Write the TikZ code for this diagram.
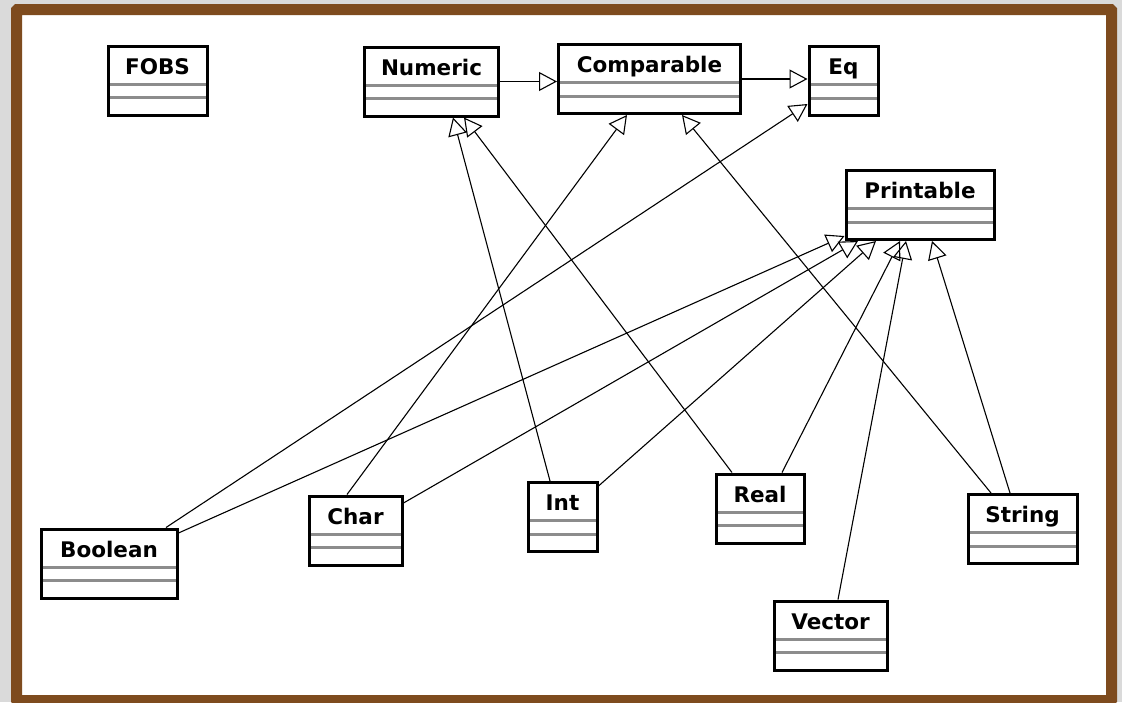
\documentclass[tikz,border=0pt]{standalone}
\usepackage{fontspec}
\setsansfont{DejaVu Sans}
\usetikzlibrary{arrows.meta}
\definecolor{framebrown}{HTML}{7E4B1E}
\definecolor{backgray}{HTML}{DADADA}
\definecolor{splitgray}{HTML}{8C8C8C}

\begin{document}
\begin{tikzpicture} [
						x=1pt, y=-1pt,
						class/.style={draw, line width=3pt, inner xsep=0pt, inner ysep=0pt,
							text height=28pt, text depth=41pt,
							font=\sffamily\bfseries\fontsize{21.5}{25}\selectfont,
							path picture={
								\draw[splitgray, line width=3pt]
									([yshift=-38pt]path picture bounding box.north west) -- ([yshift=-38pt]path picture bounding box.north east)
									([yshift=-51.5pt]path picture bounding box.north west) -- ([yshift=-51.5pt]path picture bounding box.north east);
							}},
						inherits/.style={line width=1.1pt, -{Triangle[open, length=18pt, width=19pt]}}
					]

\useasboundingbox (0,0) rectangle (1122,702);
\fill[backgray] (0,0) rectangle (1122,702);
\begin{scope}
	\clip (0,0) rectangle (1122,702);
	\draw[framebrown, fill=white, line width=11pt, rounded corners=1pt] (16.5,9.5) rectangle (1111.5,700.5);
\end{scope}

% classes
\node (fobs)       [class, minimum width=99pt]  at (157.5,80.5)  {FOBS};
\node (numeric)    [class, minimum width=134pt] at (431.5,81.5)  {Numeric};
\node (comparable) [class, minimum width=182pt] at (649.5,79)    {Comparable};
\node (eq)         [class, minimum width=69pt]  at (843.5,81)    {Eq};
\node (printable)  [class, minimum width=148pt] at (920,205)     {Printable};
\node (boolean)    [class, minimum width=136pt] at (109,563.5)   {Boolean};
\node (char)       [class, minimum width=93pt]  at (355.5,530.5) {Char};
\node (int)        [class, minimum width=69pt]  at (562.5,517)   {Int};
\node (real)       [class, minimum width=88pt]  at (760,508.5)   {Real};
\node (string)     [class, minimum width=109pt] at (1022.5,529)  {String};
\node (vector)     [class, minimum width=113pt] at (830.5,635.5) {Vector};

% generalisations
\path[inherits]
	(numeric.east) edge (numeric.east -| comparable.west)
	(comparable.east) edge (comparable.east -| eq.west)
	([xshift=-12.5pt]int.north) edge ([xshift=21.5pt]numeric.south)
	([xshift=-28pt]real.north) edge ([xshift=32.5pt]numeric.south)
	([xshift=-8.5pt]char.north) edge ([xshift=-22.5pt]comparable.south)
	([xshift=-31.5pt]string.north) edge ([xshift=32.5pt]comparable.south)
	([xshift=57pt]boolean.north) edge ([yshift=-23pt]eq.west)
	([yshift=30.5pt]boolean.east) edge ([yshift=-31pt]printable.west)
	([yshift=27.5pt]char.east) edge ([xshift=-62pt]printable.south)
	([yshift=31pt]int.east) edge ([xshift=-44pt]printable.south)
	([xshift=22pt]real.north) edge ([xshift=-20pt]printable.south)
	([xshift=7.5pt]vector.north) edge ([xshift=-14pt]printable.south)
	([xshift=-12.5pt]string.north) edge ([xshift=12pt]printable.south);
\end{tikzpicture}
\end{document}
